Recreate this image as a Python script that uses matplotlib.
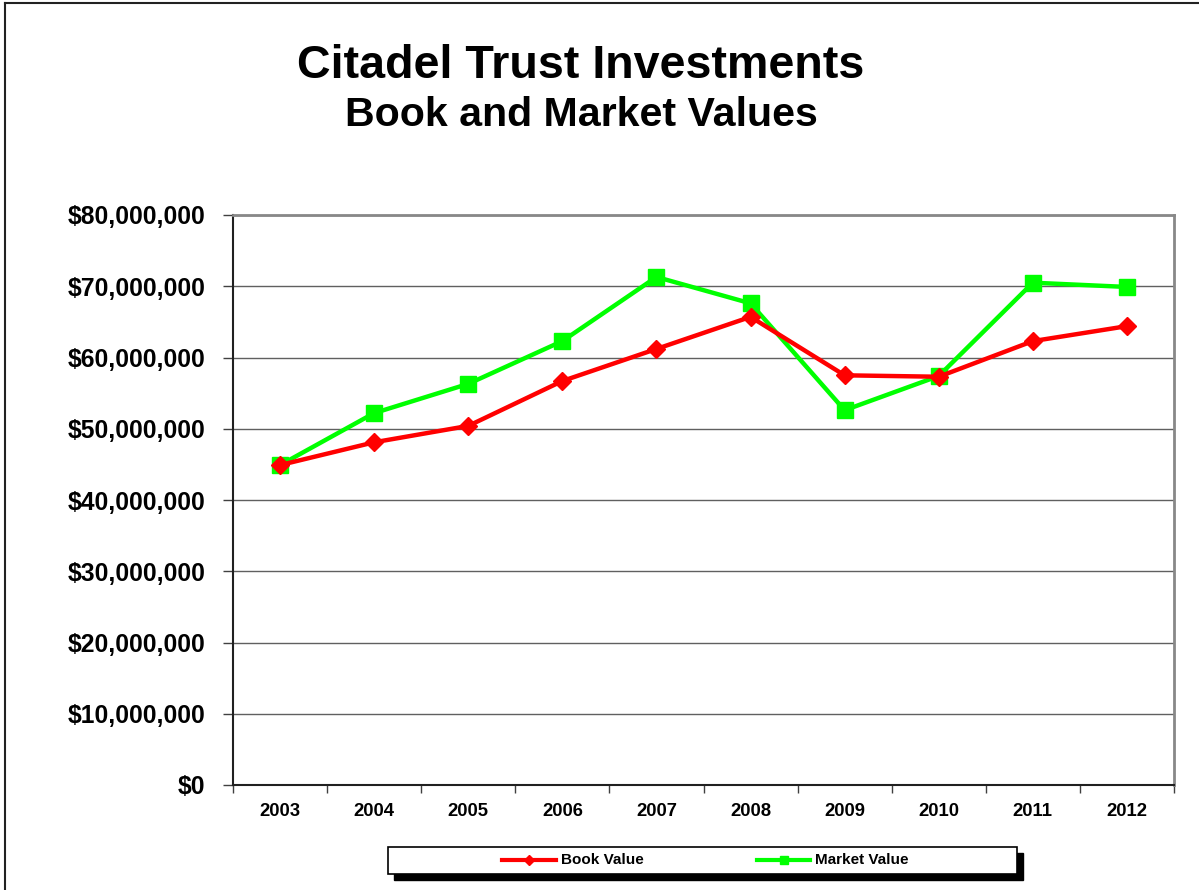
import matplotlib
matplotlib.use("Agg")
import matplotlib.pyplot as plt
from matplotlib.patches import Rectangle
from matplotlib.lines import Line2D
from matplotlib.ticker import FuncFormatter, MultipleLocator, FixedLocator
from matplotlib import font_manager

plt.rcParams['font.family'] = ['Liberation Sans', 'DejaVu Sans']

years = ["2003", "2004", "2005", "2006", "2007", "2008", "2009", "2010", "2011", "2012"]
book_value = [44.9e6, 48.1e6, 50.4e6, 56.7e6, 61.2e6, 65.7e6, 57.5e6, 57.3e6, 62.3e6, 64.4e6]
market_value = [44.9e6, 52.2e6, 56.3e6, 62.3e6, 71.3e6, 67.6e6, 52.6e6, 57.4e6, 70.5e6, 69.9e6]

names = {f.name for f in font_manager.fontManager.ttflist}
legend_family = ['Liberation Sans Narrow'] if 'Liberation Sans Narrow' in names else ['Liberation Sans']
legend_size = 12 if 'Liberation Sans Narrow' in names else 11

W, H = 1199, 890
fig = plt.figure(figsize=(W / 100, H / 100), dpi=100)
fig.patch.set_facecolor('white')

# outer frame (left and top visible)
fig.add_artist(Line2D([5 / W, 5 / W], [0, 1 - 3 / H], transform=fig.transFigure, color='#222222', lw=1.5))
fig.add_artist(Line2D([5 / W, 1], [1 - 3 / H, 1 - 3 / H], transform=fig.transFigure, color='#222222', lw=1.5))

left, right, top, bottom = 233, 1174, 215, 785
ax = fig.add_axes([left / W, 1 - bottom / H, (right - left) / W, (bottom - top) / H])

x = list(range(len(years)))
ax.plot(x, book_value, color='#ff0000', lw=3.2, marker='D', markersize=9, zorder=4, label='Book Value')
ax.plot(x, market_value, color='#00ff00', lw=3.2, marker='s', markersize=11, zorder=3, label='Market Value')

ax.set_xlim(-0.5, len(years) - 0.5)
ax.set_ylim(0, 80e6)
ax.yaxis.set_major_locator(MultipleLocator(10e6))
ax.yaxis.set_major_formatter(FuncFormatter(lambda v, p: "${:,.0f}".format(v)))
ax.grid(axis='y', color='#606060', lw=1)
ax.set_axisbelow(True)

ax.set_xticks(x)
ax.set_xticklabels(years)
ax.xaxis.set_minor_locator(FixedLocator([i - 0.5 for i in range(len(years) + 1)]))
ax.tick_params(axis='x', which='major', length=0, pad=13, labelsize=13.3)
ax.tick_params(axis='x', which='minor', length=6, width=1, color='#404040', direction='out')
ax.tick_params(axis='y', length=7, width=1, color='#404040', pad=13, labelsize=17.8)
for lab in ax.get_xticklabels() + ax.get_yticklabels():
    lab.set_fontweight('bold')

for s in ['left', 'bottom']:
    ax.spines[s].set_color('#202020')
    ax.spines[s].set_linewidth(1.5)
for s in ['top', 'right']:
    ax.spines[s].set_color('#888888')
    ax.spines[s].set_linewidth(2)

# titles
fig.text(581 / W, 1 - 66 / H, "Citadel Trust Investments", ha='center', va='center',
         fontsize=33.6, fontweight='bold')
fig.text(581 / W, 1 - 115 / H, "Book and Market Values", ha='center', va='center',
         fontsize=29.6, fontweight='bold')

# legend with shadow
lx0, lx1, ly0, ly1 = 388, 1017, 847, 874
fig.add_artist(Rectangle(((lx0 + 6) / W, 1 - (ly1 + 6) / H), (lx1 - lx0) / W, (ly1 - ly0) / H,
                         transform=fig.transFigure, facecolor='black', edgecolor='black', zorder=4))
fig.add_artist(Rectangle((lx0 / W, 1 - ly1 / H), (lx1 - lx0) / W, (ly1 - ly0) / H,
                         transform=fig.transFigure, facecolor='white', edgecolor='black', lw=1.2, zorder=5))
handles, labels = ax.get_legend_handles_labels()
h1 = Line2D([], [], color='#ff0000', lw=3, marker='D', markersize=5)
h2 = Line2D([], [], color='#00ff00', lw=3, marker='s', markersize=6)
# entries placed at measured positions
entries = [(h1, labels[0], 502, 556), (h2, labels[1], 757, 810)]
ymid = 1 - 860 / H
for h, lab, hx0, hx1 in entries:
    fig.add_artist(Line2D([hx0 / W, hx1 / W], [ymid, ymid], transform=fig.transFigure,
                          color=h.get_color(), lw=3, zorder=6))
    fig.add_artist(Line2D([(hx0 + hx1) / 2 / W], [ymid], transform=fig.transFigure,
                          color=h.get_color(), marker=h.get_marker(), markersize=h.get_markersize(),
                          lw=0, zorder=7))
    fig.text((hx1 + 5) / W, ymid, lab, ha='left', va='center', fontsize=legend_size,
             fontweight='bold', family=legend_family, zorder=7)

fig.savefig("out.png", dpi=100, facecolor='white')
